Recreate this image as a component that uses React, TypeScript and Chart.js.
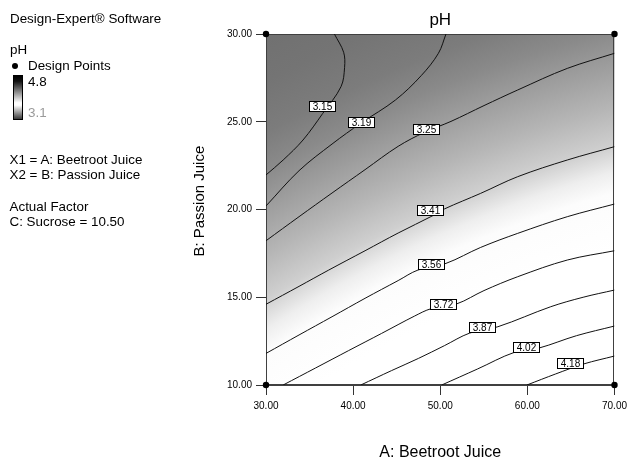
import React, { useEffect, useRef } from "react";
import { Chart, registerables } from "chart.js";

Chart.register(...registerables);

const FONT = "'Liberation Sans', Arial, Helvetica, sans-serif";

// Axis ticks
const xTickValues = [30, 40, 50, 60, 70];
const yTickValues = [10, 15, 20, 25, 30];

// Contour levels (pH)
const contourLevels = [3.15, 3.19, 3.25, 3.41, 3.56, 3.72, 3.87, 4.02, 4.18];

// Contour lines: [A: Beetroot Juice, B: Passion Juice]
const contour315 = [[30, 21.97], [31.97, 22.82], [34.25, 23.96], [36.52, 25.48], [38.61, 27.0], [39.02, 28.1], [38.91, 28.96], [37.85, 30]];
const contour319 = [[30, 20.2], [33.79, 22.21], [37.58, 23.73], [40.92, 24.93], [44.86, 26.24], [47.82, 27.63], [49.79, 28.9], [50.66, 30]];
const contour325 = [[30, 18.22], [33.79, 19.59], [37.58, 20.94], [41.37, 22.27], [45.17, 23.6], [48.2, 24.4], [51.23, 25.02], [55.02, 25.92], [58.89, 26.81], [64.58, 28.04], [70, 28.9]];
const contour341 = [[30, 14.6], [33.79, 15.62], [37.2, 16.55], [41.37, 17.65], [45.17, 18.66], [49.15, 19.65], [50.47, 20.03], [54.64, 20.92], [58.89, 21.87], [64.58, 22.82], [70, 23.58]];
const contour356 = [[30, 11.8], [33.79, 12.85], [37.58, 13.89], [41.37, 14.94], [45.17, 15.95], [47.44, 16.55], [50.66, 16.93], [54.64, 17.84], [58.89, 18.64], [64.58, 19.59], [70, 20.31]];
const contour372 = [[31.97, 10], [35.69, 10.97], [39.48, 11.96], [43.27, 12.94], [47.06, 13.93], [48.96, 14.35], [51.88, 14.62], [55.02, 15.38], [58.89, 16.17], [64.58, 17.12], [70, 17.65]];
const contour387 = [[40.88, 10], [44.41, 10.82], [47.52, 11.52], [50.47, 12.24], [53.39, 12.96], [56.62, 13.32], [62.68, 14.46], [66.4, 15.0], [70, 15.41]];
const contour402 = [[50.17, 10], [54.27, 10.91], [58.51, 11.86], [61.36, 12.11], [65.64, 12.81], [70, 13.36]];
const contour418 = [[59.95, 10], [63.25, 10.63], [66.47, 11.2], [70, 11.65]];

const contourLines = [contour315, contour319, contour325, contour341, contour356, contour372, contour387, contour402, contour418];

// Contour label anchors
const labelA = [36.45, 40.92, 48.39, 48.88, 49.0, 50.4, 54.87, 59.92, 64.92];
const labelB = [25.88, 24.93, 24.53, 19.97, 16.84, 14.58, 13.25, 12.15, 11.2];

// Design points
const designA = [30, 70, 30, 70];
const designB = [30, 30, 10, 10];

const shadePlugin = {
  id: "shade",
  beforeDraw(chart: any) {
    const { ctx, chartArea: a } = chart;
    const w = a.right - a.left;
    const h = a.bottom - a.top;
    const cx = a.left + 692 * (w / 352);
    const cy = a.top + 1348 * (h / 351);
    const r0 = 1180, r1 = 1520;
    const stops: [number, number][] = [
      [1180, 255], [1236, 252], [1256, 238], [1281, 207], [1318, 182], [1355, 160], [1392, 138], [1425, 124], [1470, 116], [1520, 112],
    ];
    const g = ctx.createRadialGradient(cx, cy, r0, cx, cy, r1);
    stops.forEach(([r, v]) => g.addColorStop((r - r0) / (r1 - r0), `rgb(${v},${v},${v})`));
    ctx.save();
    ctx.fillStyle = g;
    ctx.fillRect(a.left, a.top, w, h);
    ctx.restore();
  },
  beforeDatasetsDraw(chart: any) {
    const { ctx, chartArea: a } = chart;
    ctx.save();
    ctx.strokeStyle = "#404040";
    ctx.lineWidth = 1;
    ctx.strokeRect(Math.round(a.left) + 0.5, Math.round(a.top) + 0.5, Math.round(a.right - a.left) - 1, Math.round(a.bottom - a.top) - 1);
    ctx.restore();
  },
};

const labelPlugin = {
  id: "contourLabels",
  afterDatasetsDraw(chart: any) {
    const { ctx } = chart;
    const xs = chart.scales.x;
    const ys = chart.scales.y;
    ctx.save();
    ctx.font = `10px ${FONT}`;
    ctx.textAlign = "center";
    ctx.textBaseline = "middle";
    contourLevels.forEach((lv, i) => {
      const px = xs.getPixelForValue(labelA[i]);
      const py = ys.getPixelForValue(labelB[i]);
      const t = lv.toFixed(2);
      const w = Math.round(ctx.measureText(t).width + 8);
      const h = 11;
      const x0 = Math.round(px - w / 2);
      const y0 = Math.round(py - h / 2);
      ctx.fillStyle = "#fff";
      ctx.fillRect(x0, y0, w, h);
      ctx.strokeStyle = "#000";
      ctx.lineWidth = 1;
      ctx.strokeRect(x0 + 0.5, y0 + 0.5, w - 1, h - 1);
      ctx.fillStyle = "#000";
      ctx.fillText(t, x0 + w / 2, y0 + h / 2 + 0.5);
    });
    ctx.restore();
  },
};

function Txt({ x, y, color, children }: any) {
  return (
    <div style={{ position: "absolute", left: x, top: y, lineHeight: "15px", whiteSpace: "nowrap", color: color || "#000" }}>
      {children}
    </div>
  );
}

export default function App() {
  const ref = useRef<HTMLCanvasElement>(null);

  useEffect(() => {
    const datasets: any[] = contourLines.map((pts, i) => ({
      label: contourLevels[i].toFixed(2),
      data: pts.map(([a, b]) => ({ x: a, y: b })),
      showLine: true,
      borderColor: "#111",
      borderWidth: 1,
      pointRadius: 0,
      tension: 0.35,
      fill: false,
    }));
    datasets.push({
      label: "Design Points",
      data: designA.map((a, i) => ({ x: a, y: designB[i] })),
      showLine: false,
      pointRadius: 3.2,
      backgroundColor: "#000",
      borderColor: "#000",
      borderWidth: 0,
      clip: false,
    });

    const chart = new Chart(ref.current as HTMLCanvasElement, {
      type: "scatter",
      data: { datasets },
      options: {
        responsive: false,
        animation: false,
        events: [],
        layout: { padding: { left: 190, top: 0, right: 14, bottom: 0 } },
        plugins: {
          legend: { display: false },
          tooltip: { enabled: false },
          title: {
            display: true,
            text: "pH",
            fullSize: false,
            color: "#000",
            font: { family: FONT, size: 17, weight: "normal" },
            padding: { top: 10, bottom: 3.6 },
          },
        },
        scales: {
          x: {
            type: "linear",
            position: "bottom",
            min: 30,
            max: 70,
            afterBuildTicks: (s: any) => {
              s.ticks = xTickValues.map((v) => ({ value: v }));
            },
            afterFit: (s: any) => {
              s.height = 76;
            },
            ticks: {
              callback: (v: any) => Number(v).toFixed(2),
              font: { family: FONT, size: 10 },
              color: "#000",
              padding: 5,
              maxRotation: 0,
              autoSkip: false,
            },
            grid: { drawOnChartArea: false, drawTicks: true, tickLength: 10, color: "#333", lineWidth: 1 },
            border: { display: true, color: "#404040" },
            title: {
              display: true,
              text: "A: Beetroot Juice",
              color: "#000",
              font: { family: FONT, size: 16, lineHeight: 1 },
              padding: { top: 0, bottom: 0 },
            },
          },
          y: {
            type: "linear",
            position: "left",
            min: 10,
            max: 30,
            afterBuildTicks: (s: any) => {
              s.ticks = yTickValues.map((v) => ({ value: v }));
            },
            afterFit: (s: any) => {
              s.width = 76;
            },
            ticks: {
              callback: (v: any) => Number(v).toFixed(2),
              font: { family: FONT, size: 10 },
              color: "#000",
              padding: 4,
              autoSkip: false,
            },
            grid: { drawOnChartArea: false, drawTicks: true, tickLength: 10, color: "#333", lineWidth: 1 },
            border: { display: true, color: "#404040" },
            title: {
              display: true,
              text: "    B: Passion Juice",
              color: "#000",
              font: { family: FONT, size: 15, lineHeight: 1 },
              padding: { top: 2.3, bottom: 0 },
            },
          },
        },
      } as any,
      plugins: [shadePlugin, labelPlugin],
    });
    return () => chart.destroy();
  }, []);

  return (
    <div style={{ position: "absolute", left: 0, top: 0, width: 632, height: 461, background: "#fff", fontFamily: FONT, fontSize: 13.4, color: "#000" }}>
      <canvas ref={ref} width={632} height={461} style={{ position: "absolute", left: 0, top: 0, width: 632, height: 461 }} />
      <Txt x={10} y={10.9}>Design-Expert® Software</Txt>
      <Txt x={10} y={42.2}>pH</Txt>
      <div style={{ position: "absolute", left: 12, top: 62.5, width: 6, height: 6, borderRadius: "50%", background: "#000" }} />
      <Txt x={28} y={58.2}>Design Points</Txt>
      <div
        style={{
          position: "absolute",
          left: 13,
          top: 75,
          width: 10,
          height: 45,
          boxSizing: "border-box",
          border: "1px solid #000",
          background: "linear-gradient(to bottom, #000 0%, #111 12%, #fff 62%, #fff 68%, #3a3a3a 100%)",
        }}
      />
      <Txt x={28} y={74.2}>4.8</Txt>
      <Txt x={28} y={105} color="#9a9a9a">3.1</Txt>
      <Txt x={9.5} y={152.2}>X1 = A: Beetroot Juice</Txt>
      <Txt x={9.5} y={167.2}>X2 = B: Passion Juice</Txt>
      <Txt x={9.5} y={199.2}>Actual Factor</Txt>
      <Txt x={9.5} y={214.2}>C: Sucrose = 10.50</Txt>
    </div>
  );
}
